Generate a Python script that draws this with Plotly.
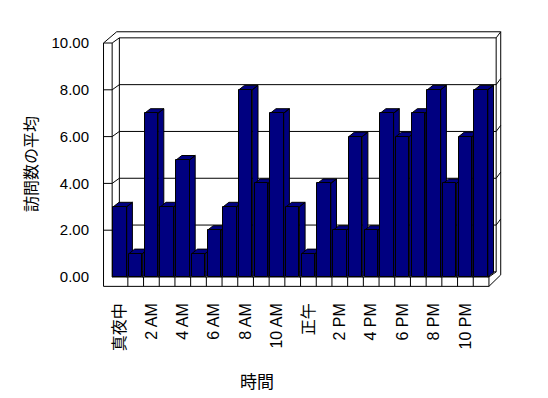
import plotly.graph_objects as go

# ---- data ----
hours = list(range(24))
visits = [3, 1, 7, 3, 5, 1, 2, 3, 8, 4, 7, 3, 1, 4, 2, 6, 2, 7, 6, 7, 8, 4, 6, 8]
tick_hours = [0, 2, 4, 6, 8, 10, 12, 14, 16, 18, 20, 22]
tick_labels = ["真夜中", "2 AM", "4 AM", "6 AM", "8 AM", "10 AM", "正午",
               "2 PM", "4 PM", "6 PM", "8 PM", "10 PM"]
y_ticks = [0, 2, 4, 6, 8, 10]
x_title = "時間"
y_title = "訪問数の平均"

# ---- style / geometry (in axis units) ----
NAVY = "#000080"
FONT = "Liberation Sans, Arial, Noto Sans CJK JP, sans-serif"
BAR_W = 0.853
BDX, BDY = 0.363, 0.192          # bar depth offset
XL, XR = -0.5, len(hours) - 0.5  # front floor extent
WT = 0.55                        # left wall thickness
FB = -0.40                       # floor front bottom
DX, DY = 0.46, 0.22              # back wall depth
ODY = 0.48                       # outer top offset
OLX = XL - WT + 0.84             # outer top-left x
ORX = XR + 0.75                  # outer right x
YMAX = max(y_ticks)

OFF = 8  # page body margin of the html page
W, H = 548, 398
L, R, T, B = 98, 506, 28, 294   # plot area in page pixels
PX0, XU, PY0, YU = 120.0, 15.7, 277.0, 23.4
xrange_ = [(L - PX0) / XU, (R - PX0) / XU]
yrange_ = [(PY0 - B) / YU, (PY0 - T) / YU]

fig = go.Figure()

# side + top faces of each bar (drawn first, left to right)
for h, v in zip(hours, visits):
    w = BAR_W / 2
    xs = [h - w, h - w + BDX, h + w + BDX, h + w, h - w, None,
          h + w, h + w + BDX, h + w + BDX, h + w, h + w]
    ys = [v, v + BDY, v + BDY, v, v, None,
          0, BDY, v + BDY, v, 0]
    fig.add_trace(go.Scatter(x=xs, y=ys, mode="lines", fill="toself",
                             fillcolor=NAVY, line=dict(color="black", width=1),
                             hoverinfo="skip", showlegend=False,
                             xaxis="x", yaxis="y"))

# front faces (real bars) on an overlaying axis pair so they sit on top
fig.add_trace(go.Bar(x=hours, y=visits, width=BAR_W,
                     marker=dict(color=NAVY, line=dict(color="black", width=1)),
                     showlegend=False, xaxis="x2", yaxis="y2"))

# ---- 3D frame ----
shapes = []
def seg(x0, y0, x1, y1):
    shapes.append(dict(type="line", xref="x", yref="y", x0=x0, y0=y0, x1=x1, y1=y1,
                       line=dict(color="black", width=1), layer="below"))

inner = [t for t in y_ticks if 0 < t < YMAX]
# back wall
seg(XL + DX, DY, XL + DX, YMAX + DY)
seg(XR + DX, DY, XR + DX, YMAX + DY)
seg(XL + DX, DY, XR + DX, DY)
for t in inner + [YMAX]:
    seg(XL + DX, t + DY, XR + DX, t + DY)
# right thickness of back wall
for t in inner:
    seg(XR + DX, t + DY, ORX, t + ODY)
seg(XR + DX, YMAX + DY, ORX, YMAX + ODY)
seg(ORX, YMAX + ODY, ORX, 0.09)
seg(ORX, 0.09, XR, FB)
# outer top
seg(OLX, YMAX + ODY, ORX, YMAX + ODY)
# left wall
seg(XL - WT, FB, XL - WT, YMAX)
seg(XL, 0, XL, YMAX)
seg(XL - WT, YMAX, XL, YMAX)
seg(XL - WT, YMAX, OLX, YMAX + ODY)
seg(XL, YMAX, XL + DX, YMAX + DY)
for t in inner:
    seg(XL - WT, t, XL, t)
    seg(XL, t, XL + DX, t + DY)
seg(XL, 0, XL + DX, DY)
# floor
seg(XL, 0, XR, 0)
seg(XL - WT, FB, XR, FB)
seg(XR, 0, XR + DX, DY)
for h in hours:
    seg(h + 0.5, FB, h + 0.5, 0)

axis_common = dict(showgrid=False, zeroline=False, showline=False)
fig.update_layout(
    width=W, height=H,
    margin=dict(l=L - OFF, r=W - R + OFF, t=T - OFF, b=H - B + OFF),
    paper_bgcolor="white", plot_bgcolor="white",
    bargap=0, showlegend=False,
    font=dict(family=FONT, color="black", size=15),
    shapes=shapes,
    xaxis=dict(range=xrange_, tickmode="array", tickvals=tick_hours, ticktext=tick_labels,
               tickangle=-90, ticks="", ticklabelstandoff=5,
               tickfont=dict(size=16, family=FONT), **axis_common),
    yaxis=dict(range=yrange_, tickmode="array", tickvals=y_ticks, tickformat=".2f",
               ticks="", ticklabelstandoff=8,
               tickfont=dict(size=15, family=FONT), **axis_common),
    xaxis2=dict(range=xrange_, overlaying="x", visible=False, **axis_common),
    yaxis2=dict(range=yrange_, overlaying="y", visible=False, **axis_common),
    annotations=[
        dict(text=y_title, xref="paper", yref="paper",
             x=(30 - L) / (R - L), y=(B - 164) / (B - T), textangle=-90,
             xanchor="center", yanchor="middle", showarrow=False,
             font=dict(size=16, family="Noto Sans CJK JP")),
        dict(text=x_title, xref="paper", yref="paper",
             x=(257 - L) / (R - L), y=(B - 380) / (B - T),
             xanchor="center", yanchor="middle", showarrow=False,
             font=dict(size=17, family="Noto Sans CJK JP")),
    ],
)

fig.write_html("out.html")
